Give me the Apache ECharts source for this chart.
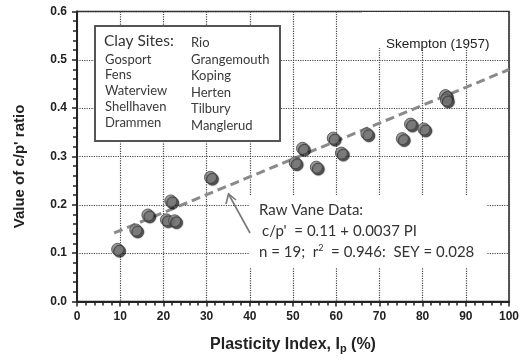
<!DOCTYPE html>
<html><head><meta charset="utf-8">
<script src="https://cdn.jsdelivr.net/npm/echarts@6/dist/echarts.min.js"></script>
<style>html,body{margin:0;padding:0;background:#fff}#c{width:532px;height:361px}</style>
</head><body><div id="c"></div>
<script>
// Plasticity index (%) of raw vane data points
const plasticityIndex = [9.4, 13.6, 16.4, 20.7, 21.7, 22.6, 30.9, 50.5, 52.2, 55.4, 59.3, 61.2, 67.1, 75.3, 77.2, 80.3, 85.3, 85.5];
// c/p' ratio values
const cpRatio = [0.108, 0.148, 0.179, 0.169, 0.208, 0.167, 0.257, 0.287, 0.317, 0.278, 0.338, 0.307, 0.347, 0.337, 0.367, 0.357, 0.426, 0.417];
// regression c/p' = 0.11 + 0.0037 PI, drawn between these PI values
const fitIntercept = 0.11, fitSlope = 0.0037;
const fitRange = [8.6, 100];
const xTicks = [0, 100, 10];
const yTicks = [0, 0.6, 0.1];
const claySitesCol1 = ['Gosport', 'Fens', 'Waterview', 'Shellhaven', 'Drammen'];
const claySitesCol2 = ['Rio', 'Grangemouth', 'Koping', 'Herten', 'Tilbury', 'Manglerud'];
const annotationLines = ['Raw Vane Data:', "c/p'  = 0.11 + 0.0037 PI", 'n = 19;  r{sup|2}  = 0.946:  SEY = 0.028'];

const points = plasticityIndex.map((x, i) => [x, cpRatio[i]]);
const fitLine = fitRange.map(x => [x, +(fitIntercept + fitSlope * x).toFixed(4)]);

const chart = echarts.init(document.getElementById('c'), null, {renderer: 'canvas'});
const legendFont = 'Lato, "Open Sans", sans-serif';
const graphics = [];
// white backgrounds hiding gridlines behind text
graphics.push({type: 'rect', z: 1, shape: {x: 249, y: 196, width: 238, height: 72}, style: {fill: '#fff'}});
graphics.push({type: 'rect', z: 1, shape: {x: 362, y: 12, width: 146, height: 36}, style: {fill: '#fff'}});
// legend box
graphics.push({type: 'rect', z: 1, shape: {x: 95, y: 26, width: 185, height: 115}, style: {fill: '#fff', stroke: '#555', lineWidth: 2}});
graphics.push({type: 'text', z: 3, left: 104, top: 33, style: {text: 'Clay Sites:', font: '15.5px ' + legendFont, fill: '#333'}});
claySitesCol1.forEach((s, i) => graphics.push({type: 'text', z: 3, left: 105, top: 53 + i * 15.8, style: {text: s, font: '13px ' + legendFont, fill: '#3a3a3a'}}));
claySitesCol2.forEach((s, i) => graphics.push({type: 'text', z: 3, left: 191, top: 36 + i * 16.5 + (i > 0 ? 0.6 : 0), style: {text: s, font: '13px ' + legendFont, fill: '#3a3a3a'}}));
graphics.push({type: 'text', z: 3, left: 386, top: 37, style: {text: 'Skempton (1957)', font: '13.5px "Liberation Sans", Arial, sans-serif', fill: '#222'}});
annotationLines.forEach((t, i) => graphics.push({type: 'text', z: 3, left: i === 1 ? 262 : 259, top: 203 + i * 20.5,
  style: {text: t, font: '15px ' + legendFont, fill: '#333', rich: {sup: {fontSize: 9, verticalAlign: 'top', padding: [0, 0, 8, 0], fill: '#333', fontFamily: 'Lato'}}}}));
// arrow
graphics.push({type: 'line', z: 3, shape: {x1: 250, y1: 233, x2: 228.5, y2: 194}, style: {stroke: '#777', lineWidth: 1.6}});
graphics.push({type: 'polyline', z: 3, shape: {points: [[226, 204], [228.5, 194], [236, 200]]}, style: {stroke: '#777', lineWidth: 1.6, fill: null}});

chart.setOption({
  animation: false,
  backgroundColor: '#fff',
  grid: {left: 77, right: 23, top: 11.5, bottom: 59.5, show: true, borderColor: '#222', borderWidth: 1.5, z: 0},
  xAxis: {
    type: 'value', min: xTicks[0], max: xTicks[1], interval: xTicks[2],
    name: '{a|Plasticity Index, I}{s|p}{a| (%)}', nameLocation: 'middle', nameGap: 34,
    nameTextStyle: {rich: {a: {fontFamily: '"Liberation Sans", Arial', fontWeight: 'bold', fontSize: 16, color: '#222'},
      s: {fontFamily: '"Liberation Sans", Arial', fontWeight: 'bold', fontSize: 11, color: '#222', verticalAlign: 'bottom', padding: [8, 0, 0, 0]}}},
    axisLine: {lineStyle: {color: '#222', width: 2}},
    axisTick: {show: true, length: 5, lineStyle: {color: '#222', width: 1.5}},
    minorTick: {show: true, splitNumber: 5, length: 4, lineStyle: {color: '#222', width: 1.5}},
    axisLabel: {fontFamily: '"Liberation Sans", Arial', fontWeight: 'bold', fontSize: 12, color: '#222', margin: 9},
    splitLine: {show: true, lineStyle: {color: '#4a4a4a', type: 'dotted', width: 1.2}}
  },
  yAxis: {
    type: 'value', min: yTicks[0], max: yTicks[1], interval: yTicks[2],
    name: "Value of c/p' ratio", nameLocation: 'middle', nameGap: 50,
    nameTextStyle: {fontFamily: '"Liberation Sans", Arial', fontWeight: 'bold', fontSize: 15, color: '#222', padding: [0, 0, 0, -20]},
    axisLine: {show: true, lineStyle: {color: '#222', width: 2}},
    axisTick: {show: true, length: 5, lineStyle: {color: '#222', width: 1.5}},
    minorTick: {show: true, splitNumber: 5, length: 4, lineStyle: {color: '#222', width: 1.5}},
    axisLabel: {fontFamily: '"Liberation Sans", Arial', fontWeight: 'bold', fontSize: 12, color: '#222', margin: 10,
      formatter: v => v.toFixed(1)},
    splitLine: {show: true, lineStyle: {color: '#4a4a4a', type: 'dotted', width: 1.2}}
  },
  graphic: graphics,
  series: [
    {type: 'line', data: fitLine, symbol: 'none', z: 4,
      lineStyle: {color: '#8a8a8a', width: 3, type: [9, 5]}},
    {type: 'scatter', data: points, symbol: 'circle', symbolSize: 12, z: 5,
      itemStyle: {color: '#858585', borderColor: '#444', borderWidth: 1,
        shadowColor: 'rgba(0,0,0,0.85)', shadowBlur: 1, shadowOffsetX: 2, shadowOffsetY: 2}}
  ]
});
</script></body></html>
